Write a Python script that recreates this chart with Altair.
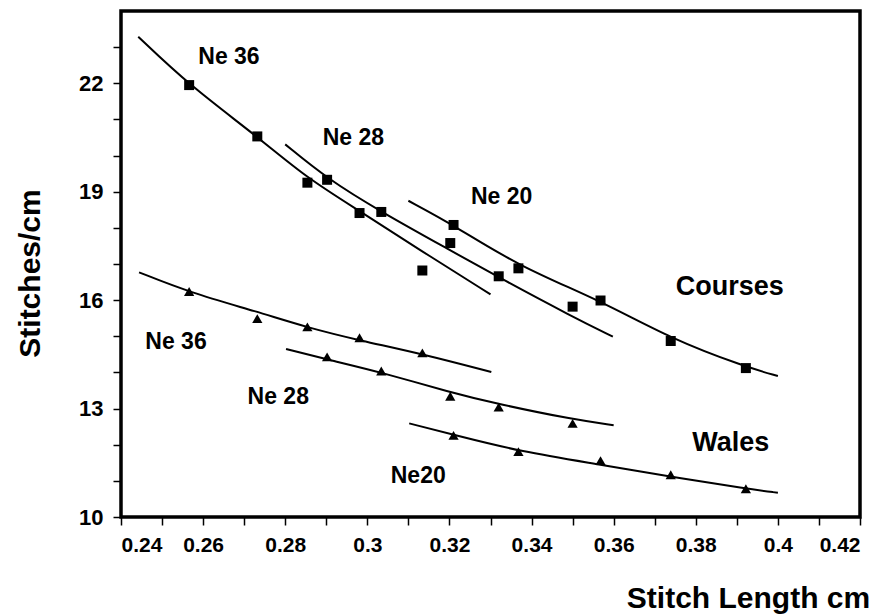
import altair as alt
import pandas as pd

# ---- measured points (stitch length cm) ----
x_ne36 = [0.2566, 0.2732, 0.2854, 0.2981, 0.3134]
x_ne28 = [0.2902, 0.3034, 0.3202, 0.3320, 0.3500]
x_ne20 = [0.3210, 0.3368, 0.3568, 0.3739, 0.3922]

courses_ne36 = [21.95, 20.53, 19.25, 18.41, 16.82]
courses_ne28 = [19.33, 18.44, 17.58, 16.66, 15.82]
courses_ne20 = [18.08, 16.88, 15.99, 14.87, 14.12]

wales_ne36 = [16.24, 15.49, 15.26, 14.96, 14.54]
wales_ne28 = [14.43, 14.04, 13.34, 13.04, 12.59]
wales_ne20 = [12.26, 11.81, 11.56, 11.17, 10.78]

# ---- fitted curves ----
fit_c36_x = [0.2442, 0.2566, 0.2732, 0.2851, 0.2981, 0.3129, 0.3300]
fit_c36_y = [23.29, 21.95, 20.53, 19.39, 18.47, 17.38, 16.16]
fit_c28_x = [0.2800, 0.2902, 0.3034, 0.3202, 0.3320, 0.3500, 0.3598]
fit_c28_y = [20.31, 19.36, 18.44, 17.38, 16.63, 15.54, 14.99]
fit_c20_x = [0.3100, 0.3210, 0.3368, 0.3568, 0.3739, 0.3922, 0.4000]
fit_c20_y = [18.75, 18.08, 16.94, 15.99, 14.93, 14.15, 13.90]
fit_w36_x = [0.2444, 0.2568, 0.2732, 0.2854, 0.2983, 0.3134, 0.3302]
fit_w36_y = [16.77, 16.21, 15.68, 15.24, 14.88, 14.51, 14.01]
fit_w28_x = [0.2802, 0.2905, 0.3032, 0.3202, 0.3320, 0.3500, 0.3600]
fit_w28_y = [14.65, 14.35, 14.01, 13.45, 13.12, 12.70, 12.54]
fit_w20_x = [0.3102, 0.3215, 0.3373, 0.3568, 0.3739, 0.3927, 0.4000]
fit_w20_y = [12.59, 12.26, 11.81, 11.45, 11.11, 10.78, 10.67]

# ---- annotations ----
small_labels = ["Ne 36", "Ne 28", "Ne 20", "Ne 36", "Ne 28", "Ne20"]
small_label_x = [0.2663, 0.2966, 0.3327, 0.2534, 0.2783, 0.3124]
small_label_y = [22.81, 20.58, 18.94, 14.93, 13.40, 11.23]
big_labels = ["Courses", "Wales"]
big_label_x = [0.3883, 0.3885]
big_label_y = [16.46, 12.14]

x_ticks = [round(0.24 + 0.01 * i, 2) for i in range(19)]
y_ticks = list(range(10, 24))

FONT = "Liberation Sans"

# ---- tables ----
squares = pd.DataFrame({
    "x": x_ne36 + x_ne28 + x_ne20,
    "y": courses_ne36 + courses_ne28 + courses_ne20,
})
triangles = pd.DataFrame({
    "x": x_ne36 + x_ne28 + x_ne20,
    "y": wales_ne36 + wales_ne28 + wales_ne20,
})
fits = []
for name, xs, ys in [
    ("c36", fit_c36_x, fit_c36_y), ("c28", fit_c28_x, fit_c28_y),
    ("c20", fit_c20_x, fit_c20_y), ("w36", fit_w36_x, fit_w36_y),
    ("w28", fit_w28_x, fit_w28_y), ("w20", fit_w20_x, fit_w20_y),
]:
    for i, (a, b) in enumerate(zip(xs, ys)):
        fits.append({"series": name, "order": i, "x": a, "y": b})
fits = pd.DataFrame(fits)
small_df = pd.DataFrame({"t": small_labels, "x": small_label_x, "y": small_label_y})
big_df = pd.DataFrame({"t": big_labels, "x": big_label_x, "y": big_label_y})

xscale = alt.Scale(domain=[0.24, 0.42], nice=False, zero=False)
yscale = alt.Scale(domain=[10, 24], nice=False, zero=False)

xaxis = alt.Axis(
    values=x_ticks,
    labelExpr="round(datum.value*100) % 2 == 0 ? format(datum.value, '~g') : ''",
    labelOverlap=False, labelPadding=9,
    title="Stitch Length cm",
    titleX=627, titleY=81, titleAlign="center", titleBaseline="middle",
    titleFontSize=30,
)
yaxis = alt.Axis(
    values=y_ticks,
    labelExpr="(round(datum.value) - 10) % 3 == 0 ? datum.label : ''",
    labelOverlap=False, labelPadding=10, labelFontSize=22,
    title="Stitches/cm",
    titleX=-91, titleY=262, titleAlign="center", titleBaseline="middle",
    titleAngle=-90, titleFontSize=30,
)

X = alt.X("x:Q", scale=xscale, axis=xaxis)
Y = alt.Y("y:Q", scale=yscale, axis=yaxis)

lines = alt.Chart(fits).mark_line(color="black", strokeWidth=2, interpolate="basis").encode(
    x=X, y=Y, detail="series:N", order="order:Q"
)
sq = alt.Chart(squares).mark_point(shape="square", filled=True, size=100, color="black", opacity=1).encode(
    x=X, y=Y
)
tri = alt.Chart(triangles).mark_point(shape="triangle-up", filled=True, size=105, color="black", opacity=1).encode(
    x=X, y=Y
)
small_txt = alt.Chart(small_df).mark_text(
    font=FONT, fontWeight="bold", fontSize=23, color="black", align="center", baseline="middle", dy=3
).encode(x=X, y=Y, text="t:N")
big_txt = alt.Chart(big_df).mark_text(
    font=FONT, fontWeight="bold", fontSize=27, color="black", align="center", baseline="middle", dy=3
).encode(x=X, y=Y, text="t:N")

chart = alt.layer(lines, sq, tri, small_txt, big_txt).properties(
    width=739, height=506,
    autosize=alt.AutoSizeParams(type="none"),
    padding={"left": 121, "top": 11, "right": 28, "bottom": 98},
    background="white",
).configure_view(
    stroke="black", strokeWidth=3.5
).configure_axis(
    domain=False, grid=False,
    tickColor="black", tickWidth=1.5, tickSize=8,
    labelFont=FONT, labelFontWeight="bold", labelFontSize=21, labelColor="black",
    titleFont=FONT, titleFontWeight="bold", titleColor="black",
)

chart.save("out.html", embed_options={"renderer": "svg", "actions": False})
